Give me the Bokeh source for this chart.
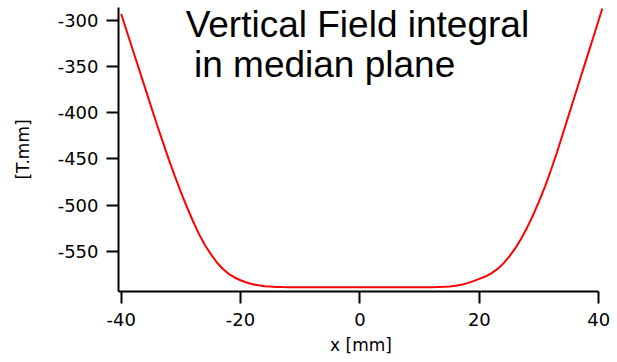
from bokeh.plotting import figure
from bokeh.models import Range1d, FixedTicker, Label, ColumnDataSource
from bokeh.embed import file_html
from bokeh.resources import INLINE

# Field integral
x_mm = [-40, -39, -38, -37, -36, -35, -34, -33, -32, -31, -30, -29, -28, -27, -26,
        -25, -24, -23, -22, -21, -20, -19, -18, -17, -16, -15, -14, -13, -12,
        -8, -4, 0, 4, 8, 12, 13, 14, 15, 16, 17, 18, 19, 20, 21, 22, 23, 24, 25,
        26, 27, 28, 29, 30, 31, 32, 33, 34, 35, 36, 37, 38, 39, 40, 40.6]
field_tmm = [-293, -313, -333, -353, -373, -393, -413, -432, -451, -469, -486, -502,
             -517, -531, -543, -553, -562, -569, -574.5, -578.5, -581.5, -584, -585.8,
             -587, -587.9, -588.4, -588.7, -588.9, -589,
             -589, -589, -589, -589, -589, -589, -588.9, -588.6, -588.2, -587.5, -586.3,
             -584.6, -582.5, -580, -577.5, -574, -569.5, -563.5, -556,
             -547, -536.5, -524.5, -511, -496, -480, -462, -443, -422.5, -402, -381.5,
             -361, -340.5, -320, -299.5, -287]

x_ticks = [-40, -20, 0, 20, 40]
y_ticks = [-550, -500, -450, -400, -350, -300]
title_lines = ["Vertical Field integral", "in median plane"]
x_label = "x [mm]"
y_label = "[T.mm]"

src = ColumnDataSource(dict(x=x_mm, y=field_tmm))

p = figure(width=617, height=362, output_backend="svg", toolbar_location=None,
           x_range=Range1d(-40.45, 40.8), y_range=Range1d(-593.7, -285.9),
           min_border_left=118, min_border_right=14, min_border_top=7, min_border_bottom=71)
p.outline_line_color = None
p.xgrid.visible = False
p.ygrid.visible = False
p.background_fill_color = "white"
p.border_fill_color = "white"

p.line("x", "y", source=src, line_color="#ff0000", line_width=2)

for ax in (p.xaxis[0], p.yaxis[0]):
    ax.axis_line_color = "black"
    ax.axis_line_width = 2
    ax.major_tick_line_color = "black"
    ax.major_tick_line_width = 2
    ax.major_tick_out = 12
    ax.major_tick_in = 0
    ax.minor_tick_line_color = None
    ax.major_label_text_font = "DejaVu Sans"
    ax.major_label_text_font_size = "18px"
    ax.major_label_text_color = "black"
    ax.axis_label_text_font = "DejaVu Sans"
    ax.axis_label_text_font_size = "17px"
    ax.axis_label_text_font_style = "normal"
    ax.axis_label_text_color = "black"

p.xaxis[0].ticker = FixedTicker(ticks=x_ticks)
p.yaxis[0].ticker = FixedTicker(ticks=y_ticks)
p.xaxis[0].major_label_overrides = {t: str(t) for t in x_ticks}
p.yaxis[0].major_label_overrides = {t: str(t) for t in y_ticks}
p.xaxis[0].bounds = (-40.45, 40)
p.xaxis[0].axis_label = x_label
p.yaxis[0].axis_label = y_label
p.xaxis[0].major_label_standoff = 9
p.yaxis[0].major_label_standoff = 8
p.xaxis[0].axis_label_standoff = 6
p.yaxis[0].axis_label_standoff = 22

p.add_layout(Label(x=-29.2, y=-304.5, text=title_lines[0], text_font="Liberation Sans",
                   text_font_size="37px", text_color="black", text_baseline="alphabetic"))
p.add_layout(Label(x=-27.8, y=-347.8, text=title_lines[1], text_font="Liberation Sans",
                   text_font_size="37px", text_color="black", text_baseline="alphabetic"))

open("out.html", "w").write(file_html(p, INLINE))
